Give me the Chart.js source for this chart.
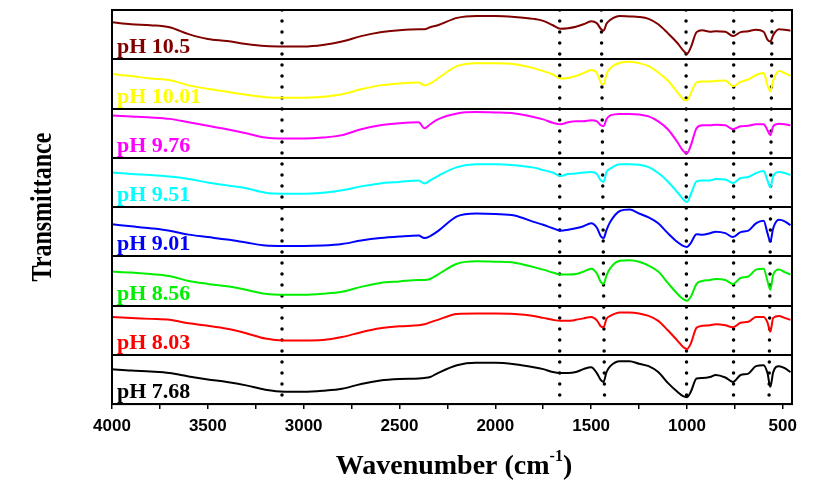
<!DOCTYPE html>
<html>
<head>
<meta charset="utf-8">
<script src="https://cdn.jsdelivr.net/npm/chart.js@4.4.1/dist/chart.umd.min.js"></script>
<style>
html,body{margin:0;padding:0;background:#fff;}
#c{display:block;}
</style>
</head>
<body>
<canvas id="c" width="826" height="490"></canvas>
<script>
// Wavenumber grid (cm-1)
const wavenumbers = [4000,3900,3800,3700,3600,3500,3400,3300,3200,3100,3000,2900,2800,2700,2600,2500,2400,2370,2340,2300,2200,2100,2000,1900,1800,1750,1700,1660,1620,1580,1540,1500,1470,1450,1435,1420,1400,1350,1300,1250,1200,1150,1100,1050,1020,1000,980,950,920,880,850,800,760,720,680,640,600,580,565,550,520,490,460];

// Relative transmittance (0-100 within each stacked panel)
const t_pH768  = [71,68,66,63,56,50,45,38,29,25,25,27,31,41,48,51,52,53,55,63,79,84,84,81,75,71,65,63,63,65,71,75,63,49,45,65,77,87,87,82,77,65,43,25,16,14,25,52,53,55,59,54,45,59,62,77,79,63,35,65,77,73,65];
const t_pH803  = [77,75,73,71,64,59,53,44,33,29,29,30,36,46,54,58,60,62,66,71,83,84,84,83,79,75,71,69,69,71,74,77,70,58,56,73,79,86,86,84,79,69,50,29,16,12,23,55,59,60,62,60,56,65,67,77,77,66,47,75,79,75,71];
const t_pH856  = [69,67,64,60,50,44,39,32,24,22,22,24,28,38,46,49,52,52,54,63,85,90,89,87,78,73,67,63,63,64,69,75,65,48,44,61,76,91,92,89,81,69,46,24,13,10,18,44,50,52,54,52,44,56,59,73,75,50,32,63,73,68,63];
const t_pH901  = [65,61,57,52,44,39,34,28,22,21,21,22,25,32,37,40,42,37,41,51,81,87,86,83,70,64,57,52,54,57,61,67,58,41,37,53,70,92,95,87,79,67,47,29,21,19,27,45,44,47,50,47,39,49,52,67,72,47,30,57,74,71,63];
const t_pH951  = [70,67,65,62,57,50,44,38,29,27,27,29,34,42,48,51,54,48,54,63,81,87,87,85,80,75,70,63,67,68,70,71,67,54,51,71,78,87,87,86,81,69,52,30,16,10,26,52,54,54,57,56,49,59,61,69,73,54,40,63,71,69,65];
const t_pH976  = [86,84,82,79,72,65,58,50,41,39,39,41,46,58,66,70,72,60,68,78,90,93,92,90,83,78,71,68,72,74,74,76,74,66,64,78,86,89,89,88,84,74,58,32,14,9,25,60,66,66,67,66,58,64,65,68,68,56,46,64,69,68,66];
const t_pH1001 = [70,66,61,58,47,40,34,28,23,22,22,24,29,39,47,51,53,47,51,61,86,92,92,90,82,76,69,61,62,66,72,78,72,53,49,70,82,93,95,92,86,73,57,33,19,17,31,53,55,55,56,57,45,54,59,68,72,47,35,57,76,72,66];
const t_pH105  = [75,71,69,65,51,41,37,31,27,26,26,29,36,47,55,59,61,61,65,69,84,88,88,86,82,78,69,62,63,66,71,77,73,62,58,72,80,88,87,86,82,71,53,33,18,11,24,55,59,56,57,56,47,55,57,60,56,40,36,49,61,60,58];

// Series (bottom to top)
const seriesLabels = ['pH 7.68','pH 8.03','pH 8.56','pH 9.01','pH 9.51','pH 9.76','pH 10.01','pH 10.5'];
const seriesValues = [t_pH768,t_pH803,t_pH856,t_pH901,t_pH951,t_pH976,t_pH1001,t_pH105];
const seriesColors = ['#000000','#ff0000','#00ee00','#0000ff','#00ffff','#ff00ff','#ffff00','#800000'];

// Dotted reference lines (top / bottom wavenumber)
const markerTop    = [3113,1664,1447,1005,756,556];
const markerBottom = [3113,1664,1430,1002,757,572];

// x-axis ticks
const xMin = 452, xMax = 4000;
const xTicks = [500,750,1000,1250,1500,1750,2000,2250,2500,2750,3000,3250,3500,3750,4000];
const xTickLabels = ['500','','1000','','1500','','2000','','2500','','3000','','3500','','4000'];

const datasets = [];
seriesValues.forEach((vals, i) => {
  datasets.push({
    label: seriesLabels[i],
    data: wavenumbers.map((w, j) => ({x: w, y: i + vals[j] / 100})),
    borderColor: seriesColors[i],
    borderWidth: 2,
    pointRadius: 0,
    fill: false,
    cubicInterpolationMode: 'monotone'
  });
});
markerTop.forEach((w, k) => {
  datasets.push({
    label: 'm' + k,
    data: [{x: w, y: seriesLabels.length}, {x: markerBottom[k], y: 0}],
    borderColor: '#000',
    borderWidth: 3.5,
    borderDash: [0, 11],
    borderCapStyle: 'round',
    pointRadius: 0,
    fill: false,
    tension: 0
  });
});

const decor = {
  id: 'decor',
  afterDraw(chart) {
    const ctx = chart.ctx, a = chart.chartArea, y = chart.scales.y;
    ctx.save();
    ctx.strokeStyle = '#000';
    ctx.lineWidth = 2;
    ctx.strokeRect(a.left, a.top, a.right - a.left, a.bottom - a.top);
    // panel labels
    ctx.font = 'bold 22px "Liberation Serif", "Times New Roman", serif';
    ctx.textBaseline = 'alphabetic';
    ctx.textAlign = 'left';
    seriesLabels.forEach((t, i) => {
      ctx.fillStyle = seriesColors[i];
      ctx.fillText(t, a.left + 5, y.getPixelForValue(i + 0.12));
    });
    // x title
    ctx.fillStyle = '#000';
    const cx = (a.left + a.right) / 2 + 2;
    const main = 'Wavenumber (cm';
    const big = 'bold 28px "Liberation Serif", "Times New Roman", serif';
    const small = 'bold 16px "Liberation Serif", "Times New Roman", serif';
    ctx.font = big;
    const w1 = ctx.measureText(main).width;
    const w3 = ctx.measureText(')').width;
    ctx.font = small;
    const w2 = ctx.measureText('-1').width;
    const x0 = cx - (w1 + w2 + w3) / 2;
    const by = 474;
    ctx.font = big;
    ctx.fillText(main, x0, by);
    ctx.font = small;
    ctx.fillText('-1', x0 + w1, by - 13);
    ctx.font = big;
    ctx.fillText(')', x0 + w1 + w2, by);
    // y title
    ctx.translate(43, (a.top + a.bottom) / 2);
    ctx.rotate(-Math.PI / 2);
    ctx.scale(1, 1.25);
    ctx.textAlign = 'center';
    ctx.textBaseline = 'middle';
    ctx.font = 'bold 24px "Liberation Serif", "Times New Roman", serif';
    ctx.fillText('Transmittance', 0, 0);
    ctx.restore();
  }
};

new Chart(document.getElementById('c'), {
  type: 'line',
  data: {datasets},
  options: {
    responsive: false,
    animation: false,
    devicePixelRatio: 1,
    layout: {padding: {left: 112, right: 34, top: 10, bottom: 46.5}},
    plugins: {legend: {display: false}, tooltip: {enabled: false}},
    scales: {
      x: {
        type: 'linear',
        reverse: true,
        min: xMin,
        max: xMax,
        afterBuildTicks: s => { s.ticks = xTicks.map(v => ({value: v})); },
        grid: {display: true, drawOnChartArea: false, drawTicks: true, tickLength: 5, color: '#000', lineWidth: 1.5},
        border: {display: true, color: '#000', width: 2},
        ticks: {
          autoSkip: false,
          maxRotation: 0,
          padding: 7,
          color: '#000',
          font: {family: '"Liberation Sans", Arial, sans-serif', weight: 'bold', size: 17},
          callback: (v, i) => xTickLabels[xTicks.indexOf(Number(v))] ?? ''
        }
      },
      y: {
        type: 'linear',
        min: 0,
        max: seriesLabels.length,
        grid: {display: true, drawTicks: false, color: '#000', lineWidth: 2},
        border: {display: true, color: '#000', width: 2},
        ticks: {display: false, stepSize: 1}
      }
    }
  },
  plugins: [decor]
});
</script>
</body>
</html>
